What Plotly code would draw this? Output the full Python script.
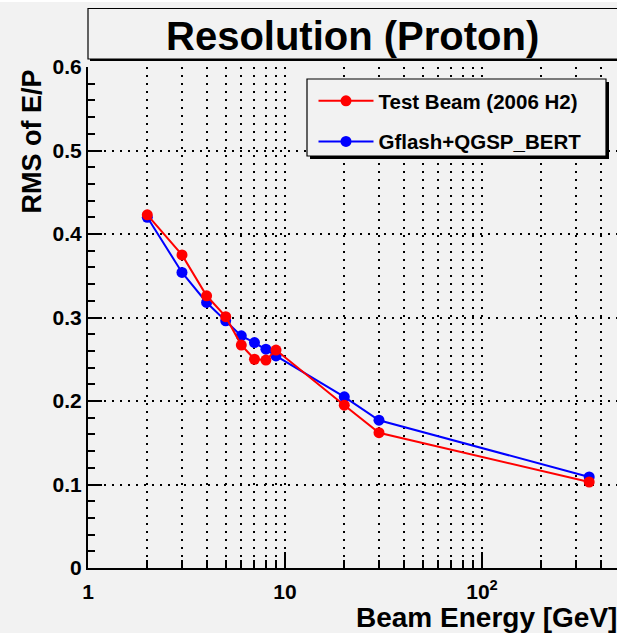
import plotly.graph_objects as go

# ---- data ----
energy = [2, 3, 4, 5, 6, 7, 8, 9, 20, 30, 350]
test_beam = [0.423, 0.375, 0.326, 0.301, 0.267, 0.250, 0.249, 0.261, 0.195, 0.162, 0.103]
gflash = [0.420, 0.354, 0.318, 0.296, 0.278, 0.270, 0.262, 0.254, 0.205, 0.177, 0.109]
x_major_ticks = [1, 10, 100]
x_major_labels = ["1", "10", "10<sup>2</sup>"]
x_minor_ticks = [2, 3, 4, 5, 6, 7, 8, 9, 20, 30, 40, 50, 60, 70, 80, 90, 200, 300, 400]
y_ticks = [0, 0.1, 0.2, 0.3, 0.4, 0.5, 0.6]
y_labels = ["0", "0.1", "0.2", "0.3", "0.4", "0.5", "0.6"]

BG = "#f2f2f2"
FONT = "Liberation Sans"
W, H = 617, 633
L, T, B = 88, 67, 65
PW = W - L
PH = H - T - B


def px(x):
    return (x - L) / PW


def py(y):
    return (H - B - y) / PH


fig = go.Figure()
fig.add_trace(go.Scatter(
    x=energy, y=gflash, mode="lines+markers", name="Gflash+QGSP_BERT",
    line=dict(color="#0000ff", width=2), marker=dict(color="#0000ff", size=11),
    legendgroup="b", legendrank=2))
fig.add_trace(go.Scatter(
    x=energy, y=test_beam, mode="lines+markers", name="Test Beam (2006 H2)",
    line=dict(color="#ff0000", width=2), marker=dict(color="#ff0000", size=11),
    legendgroup="a", legendrank=1))

grid = dict(gridcolor="black", griddash="2px,6px", gridwidth=1.6)

fig.update_xaxes(
    type="log", range=[0, PW / 197.0],
    tickvals=x_major_ticks, ticktext=x_major_labels,
    ticks="inside", ticklen=16, tickwidth=1.5, tickcolor="black",
    showline=True, linecolor="black", linewidth=2,
    showgrid=True, **grid,
    tickfont=dict(family=FONT, size=21, color="black", weight="bold"),
    ticklabelstandoff=4,
    minor=dict(tickvals=x_minor_ticks, ticks="inside", ticklen=8, tickwidth=1.5,
               tickcolor="black", showgrid=True, **grid),
    zeroline=False,
)
fig.update_yaxes(
    range=[0, 0.6], tickvals=y_ticks, ticktext=y_labels,
    ticks="inside", ticklen=14, tickwidth=1.5, tickcolor="black",
    showline=True, linecolor="black", linewidth=2,
    showgrid=True, **grid,
    tickfont=dict(family=FONT, size=21, color="black", weight="bold"),
    minor=dict(dtick=0.02, ticks="inside", ticklen=7, tickwidth=1.5, tickcolor="black",
               showgrid=False),
    zeroline=False,
)

shapes = []
# top white strip
shapes.append(dict(type="rect", xref="paper", yref="paper", x0=px(-5), x1=px(W + 5),
                   y0=py(2), y1=py(-5), fillcolor="white", line=dict(width=0), layer="below"))
# title box shadow + box
shapes.append(dict(type="rect", xref="paper", yref="paper", x0=px(90), x1=px(W + 20),
                   y0=py(61), y1=py(11), fillcolor="black", line=dict(width=0)))
shapes.append(dict(type="rect", xref="paper", yref="paper", x0=px(88), x1=px(W + 20),
                   y0=py(59), y1=py(8.5), fillcolor=BG, line=dict(color="black", width=1.2)))
# legend box shadow + box
shapes.append(dict(type="rect", xref="paper", yref="paper", x0=px(310), x1=px(609),
                   y0=py(159), y1=py(82), fillcolor="black", line=dict(width=0)))
shapes.append(dict(type="rect", xref="paper", yref="paper", x0=px(307), x1=px(606),
                   y0=py(156), y1=py(79), fillcolor=BG, line=dict(color="black", width=1.2)))

annotations = [
    dict(text="<b>Resolution (Proton)</b>", xref="paper", yref="paper",
         x=px(352), y=py(36), xanchor="center", yanchor="middle", showarrow=False,
         font=dict(family=FONT, size=40, color="black")),
    dict(text="<b>RMS of E/P</b>", xref="paper", yref="paper",
         x=px(31.5), y=py(68), xanchor="center", yanchor="top", showarrow=False,
         textangle=-90, font=dict(family=FONT, size=27, color="black")),
    dict(text="<b>Beam Energy [GeV]</b>", xref="paper", yref="paper",
         x=px(619), y=py(617), xanchor="right", yanchor="middle", showarrow=False,
         font=dict(family=FONT, size=28, color="black")),
]

fig.update_layout(
    width=W, height=H,
    margin=dict(l=L, r=0, t=T, b=B),
    paper_bgcolor=BG, plot_bgcolor=BG,
    shapes=shapes, annotations=annotations,
    showlegend=True,
    legend=dict(x=px(313.5), y=py(81), xanchor="left", yanchor="top",
                bgcolor="rgba(0,0,0,0)", borderwidth=0, tracegroupgap=11,
                traceorder="grouped", itemwidth=55,
                font=dict(family=FONT, size=20.5, color="black", weight="bold")),
)

fig.write_html(
    "out.html",
    config={"displayModeBar": False},
    post_script="document.body.style.margin='0';document.body.style.overflow='hidden';",
)
